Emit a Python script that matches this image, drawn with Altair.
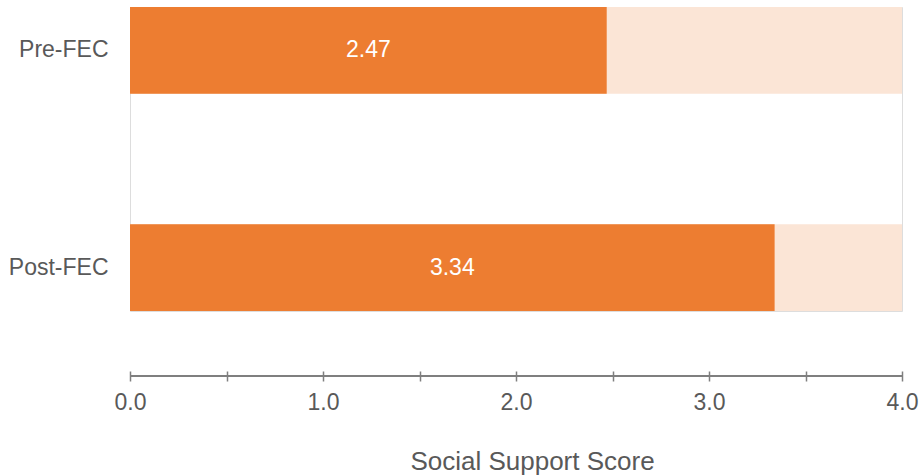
import altair as alt
import pandas as pd

# Mean social support score before and after FEC
groups = ["Pre-FEC", "Post-FEC"]
scores = [2.47, 3.34]
score_max = 4.0

ORANGE = "#ED7D31"
PEACH = "#FBE5D6"
GRAY = "#595959"
FONT = "Liberation Sans"

df = pd.DataFrame({"group": groups, "score": scores})
df["full"] = score_max
df["zero"] = 0.0
df["mid"] = df["score"] / 2
df["label"] = df["score"].map(lambda v: f"{v:.2f}")

H = 304  # plot height in px

y_enc = alt.Y(
    "group:N",
    sort=groups,
    scale=alt.Scale(paddingInner=0.6, paddingOuter=0),
    axis=alt.Axis(
        title=None, domain=False, ticks=False, labelPadding=22,
        labelFontSize=23, labelColor=GRAY, labelFont=FONT,
    ),
)

x_scale = alt.Scale(domain=[0, score_max], nice=False)

base = alt.Chart(df)

track = base.mark_bar(color=PEACH).encode(
    x=alt.X(
        "zero:Q", scale=x_scale,
        axis=alt.Axis(
            title="Social Support Score", values=[0, 0.5, 1, 1.5, 2, 2.5, 3, 3.5, 4],
            labelExpr="datum.value % 1 === 0 ? format(datum.value, '.1f') : ''",
            grid=False, domain=False, tickSize=10, tickWidth=1.5, tickColor="#7f7f7f",
            offset=60, labelPadding=10, labelFontSize=23, labelColor=GRAY,
            labelFont=FONT, titleFontSize=26, titleColor=GRAY, titleFont=FONT,
            titleFontWeight="normal", titlePadding=34, labelFlush=False,
            titleX=402, titleAlign="center",
        ),
    ),
    x2="full:Q",
    y=y_enc,
)

bars = base.mark_bar(color=ORANGE).encode(
    x=alt.X("zero:Q", scale=x_scale), x2="score:Q", y=y_enc
)

labels = base.mark_text(
    color="white", fontSize=23, font=FONT, align="center", baseline="middle"
).encode(x=alt.X("mid:Q", scale=x_scale), y=y_enc, text="label:N")

# Axis baseline spanning the full score range
axis_line = alt.Chart(pd.DataFrame({"a": [0.0], "b": [score_max]})).mark_rule(
    color="#7f7f7f", strokeWidth=2
).encode(
    x=alt.X("a:Q", scale=x_scale), x2="b:Q", y=alt.value(H + 65)
)

chart = (
    alt.layer(track, bars, labels, axis_line)
    .properties(
        width=772, height=H,
        autosize=alt.AutoSizeParams(type="none"),
        padding={"left": 130, "top": 7, "right": 17, "bottom": 164},
    )
    .configure_view(stroke=None)
    .configure(background="white")
)

chart.save("out.html", embed_options={"renderer": "svg", "actions": False})
